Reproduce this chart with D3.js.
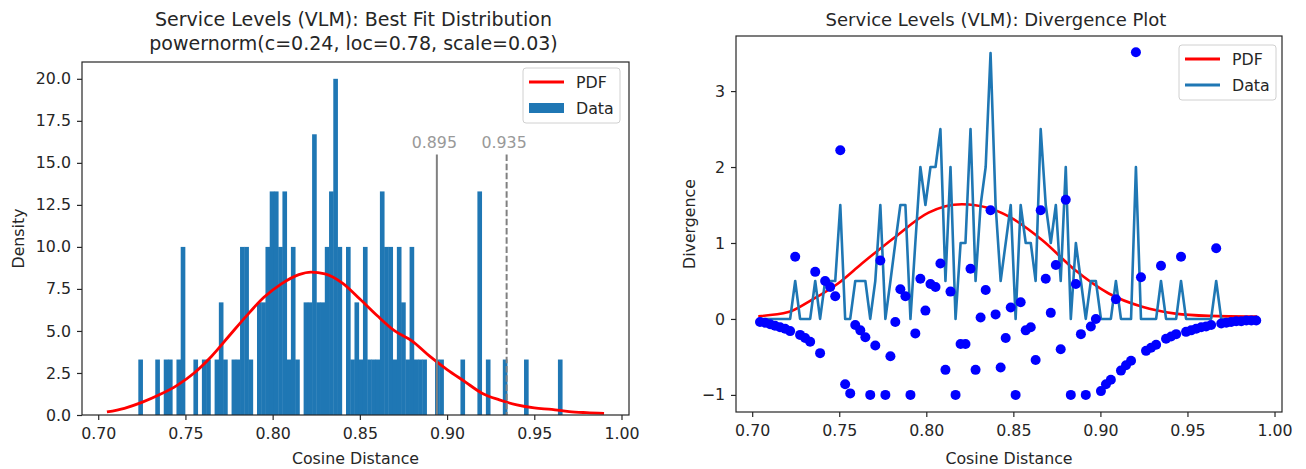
<!DOCTYPE html>
<html>
<head>
<meta charset="utf-8">
<script src="https://cdn.jsdelivr.net/npm/d3@7"></script>
<style>
  body { margin: 0; background: #fff; }
  svg text { font-family: "DejaVu Sans", sans-serif; fill: #262626; }
</style>
</head>
<body>
<div id="art"></div>
<script>
// ---------- left panel: histogram + fitted pdf ----------
const histStart = 0.7231;          // left edge of first bin
const histWidth = 0.00243;         // bin width
const histDensity = [
  3.3, 0, 0, 0, 3.3, 0, 3.3, 3.3, 0, 3.3,
  10, 0, 0, 3.3, 0, 3.3, 3.3, 0, 3.3, 6.7,
  3.3, 0, 3.3, 3.3, 10, 10, 3.3, 0, 6.7, 6.7,
  10, 13.3, 13.3, 10, 13.3, 3.3, 10, 3.3, 0, 6.7,
  6.7, 16.7, 6.7, 6.7, 10, 13.3, 20, 10, 0, 10,
  3.3, 6.7, 3.3, 10, 3.3, 3.3, 3.3, 13.3, 10, 10,
  3.3, 10, 6.7, 3.3, 10, 3.3, 3.3, 3.3, 0, 0,
  3.3, 3.3, 0, 0, 0, 0, 3.3, 0, 0, 0,
  13.3, 0, 3.3, 0, 0, 0, 3.3, 0, 0, 0,
  0, 3.3, 0, 0, 0, 0, 0, 0, 0, 3.3
];
const pdfX = [0.705, 0.715, 0.725, 0.735, 0.745, 0.755, 0.765, 0.775, 0.785, 0.795,
              0.805, 0.815, 0.822, 0.83, 0.84, 0.85, 0.86, 0.87, 0.88, 0.89,
              0.90, 0.91, 0.92, 0.93, 0.94, 0.95, 0.96, 0.97, 0.98, 0.99];
const pdfY = [0.18, 0.4, 0.75, 1.2, 1.75, 2.5, 3.5, 4.7, 5.9, 7.0,
              7.8, 8.35, 8.5, 8.4, 7.85, 6.9, 5.9, 5.0, 4.4, 3.5,
              2.7, 2.0, 1.3, 0.9, 0.6, 0.42, 0.33, 0.2, 0.14, 0.1];
const cutoffs = [0.895, 0.935];
const cutoffDash = [null, '6.5,2.7'];
const xTicks = [0.70, 0.75, 0.80, 0.85, 0.90, 0.95, 1.00];
const densityTicks = [0, 2.5, 5, 7.5, 10, 12.5, 15, 17.5, 20];

// ---------- right panel: divergence ----------
const divX = [
  0.7045, 0.7074, 0.7103, 0.7131, 0.7160, 0.7189, 0.7218, 0.7247, 0.7275, 0.7304,
  0.7333, 0.7362, 0.7390, 0.7419, 0.7448, 0.7477, 0.7506, 0.7534, 0.7563, 0.7592,
  0.7621, 0.7650, 0.7678, 0.7707, 0.7736, 0.7765, 0.7794, 0.7822, 0.7851, 0.7880,
  0.7909, 0.7937, 0.7966, 0.7995, 0.8024, 0.8053, 0.8081, 0.8110, 0.8139, 0.8168,
  0.8197, 0.8225, 0.8254, 0.8283, 0.8312, 0.8341, 0.8369, 0.8398, 0.8427, 0.8456,
  0.8485, 0.8513, 0.8542, 0.8571, 0.8600, 0.8628, 0.8657, 0.8686, 0.8715, 0.8744,
  0.8772, 0.8801, 0.8830, 0.8859, 0.8888, 0.8916, 0.8945, 0.8974, 0.9003, 0.9032,
  0.9060, 0.9089, 0.9118, 0.9147, 0.9176, 0.9204, 0.9233, 0.9262, 0.9291, 0.9320,
  0.9348, 0.9377, 0.9406, 0.9435, 0.9463, 0.9492, 0.9521, 0.9550, 0.9579, 0.9607,
  0.9636, 0.9665, 0.9694, 0.9723, 0.9751, 0.9780, 0.9809, 0.9838, 0.9867, 0.9895
];
const divData = [
  0, 0, 0, 0, 0, 0, 0, 0.5, 0, 0,
  0, 0.5, 0, 0.5, 0.5, 0.5, 1.5, 0, 0, 0.5,
  0.5, 0.5, 0, 0.5, 1.5, 0, 0.5, 1.0, 1.5, 1.5,
  0, 1.0, 2.0, 1.5, 2.0, 2.0, 2.5, 0.5, 2.0, 0,
  1.0, 1.0, 2.5, 0.5, 1.5, 2.0, 3.5, 1.5, 0.5, 1.0,
  1.5, 0, 1.5, 1.0, 1.0, 0.5, 2.5, 1.5, 1.0, 1.5,
  0.5, 2.0, 0, 1.0, 0.5, 0, 0.5, 0.5, 0, 0,
  0, 0.5, 0, 0, 0, 2.0, 0, 0, 0, 0,
  0.5, 0, 0, 0, 0.5, 0, 0, 0, 0, 0,
  0, 0.5, 0, 0, 0, 0, 0, 0, 0, 0
];
const divPoints = [
  -0.04, -0.05, -0.07, -0.09, -0.11, -0.13, -0.16, 0.82, -0.21, -0.25,
  -0.30, 0.62, -0.45, 0.50, 0.42, 0.30, 2.22, -0.86, -0.98, -0.08,
  -0.15, -0.24, -1.0, -0.35, 0.77, -1.0, -0.49, -0.04, 0.39, 0.30,
  -1.0, -0.19, 0.53, 0.11, 0.46, 0.42, 0.73, -0.67, 0.36, -1.0,
  -0.33, -0.33, 0.66, -0.67, 0.02, 0.38, 1.43, 0.06, -0.64, -0.25,
  0.15, -1.0, 0.22, -0.15, -0.11, -0.54, 1.43, 0.53, 0.08, 0.71,
  -0.40, 1.57, -1.0, 0.46, -0.20, -1.0, -0.10, 0.0, -0.95, -0.86,
  -0.80, 0.26, -0.68, -0.61, -0.55, 3.51, 0.55, -0.42, -0.38, -0.34,
  0.70, -0.26, -0.23, -0.20, 0.82, -0.17, -0.15, -0.13, -0.11, -0.10,
  -0.08, 0.93, -0.06, -0.05, -0.04, -0.03, -0.03, -0.02, -0.02, -0.02
];
const divPdfX = [0.7035, 0.7208, 0.7342, 0.7495, 0.763, 0.7821, 0.8013, 0.8205, 0.8358,
                 0.8473, 0.8665, 0.8856, 0.9048, 0.924, 0.9431, 0.9623, 0.99];
const divPdfY = [0.036, 0.09, 0.25, 0.47, 0.73, 1.08, 1.40, 1.51, 1.46,
                 1.35, 1.04, 0.64, 0.335, 0.16, 0.07, 0.04, 0.03];
const divTicks = [-1, 0, 1, 2, 3];

const tickFont = 15.8;
const titleFont = 19;

function axes(svg, box, xDomain, yDomain, yTicks, yFormat) {
  const x = d3.scaleLinear().domain(xDomain).range([box.left, box.right]);
  const y = d3.scaleLinear().domain(yDomain).range([box.bottom, box.top]);

  const ax = svg.append('g')
    .attr('transform', `translate(0,${box.bottom})`)
    .call(d3.axisBottom(x).tickValues(xTicks).tickFormat(d3.format('.2f'))
      .tickSize(5).tickPadding(8));
  const ay = svg.append('g')
    .attr('transform', `translate(${box.left},0)`)
    .call(d3.axisLeft(y).tickValues(yTicks).tickFormat(yFormat)
      .tickSize(5).tickPadding(6));
  [ax, ay].forEach(a => {
    a.select('.domain').remove();
    a.selectAll('line').attr('stroke', '#262626').attr('stroke-width', 1.2);
    a.selectAll('text').style('font-size', tickFont + 'px')
      .style('font-family', '"DejaVu Sans", sans-serif').attr('fill', '#262626');
  });
  return {x, y};
}

function frame(svg, box) {
  svg.append('rect')
    .attr('x', box.left).attr('y', box.top)
    .attr('width', box.right - box.left).attr('height', box.bottom - box.top)
    .attr('fill', 'none').attr('stroke', '#262626').attr('stroke-width', 1.2);
}

function legend(svg, left, top, items) {
  const g = svg.append('g').attr('transform', `translate(${left},${top})`);
  g.append('rect')
    .attr('width', 97).attr('height', 55).attr('rx', 3)
    .attr('fill', '#fff').attr('fill-opacity', 0.8)
    .attr('stroke', '#d0d0d0').attr('stroke-width', 1);
  items.forEach((it, i) => {
    const cy = 14 + i * 26;
    if (it.type === 'line') {
      g.append('line').attr('x1', 6).attr('x2', 41).attr('y1', cy).attr('y2', cy)
        .attr('stroke', it.colour).attr('stroke-width', 3);
    } else {
      g.append('rect').attr('x', 6).attr('y', cy - 5).attr('width', 35).attr('height', 10)
        .attr('fill', it.colour);
    }
    g.append('text').attr('x', 53).attr('y', cy).attr('dy', '0.35em')
      .style('font-size', tickFont + 'px').text(it.label);
  });
}

function art() {
  const svg = d3.select('#art').append('svg')
    .attr('width', 1306).attr('height', 469)
    .style('background', '#fff');

  // ---- left panel ----
  const lb = {left: 82, right: 629, top: 62, bottom: 415};
  const L = axes(svg, lb, [0.6907, 1.0043], [0, 21], densityTicks, d3.format('.1f'));
  const barW = L.x(histStart + histWidth) - L.x(histStart);

  svg.append('g').selectAll('rect')
    .data(histDensity.map((d, i) => ({i, d})).filter(b => b.d > 0))
    .enter().append('rect')
    .attr('x', b => L.x(histStart + b.i * histWidth) - 0.2)
    .attr('width', barW + 0.4)
    .attr('y', b => L.y(b.d))
    .attr('height', b => L.y(0) - L.y(b.d))
    .attr('fill', '#1f77b4');

  svg.append('path')
    .datum(pdfX.map((v, i) => [v, pdfY[i]]))
    .attr('d', d3.line().x(d => L.x(d[0])).y(d => L.y(d[1])).curve(d3.curveMonotoneX))
    .attr('fill', 'none').attr('stroke', 'red').attr('stroke-width', 2.8);

  cutoffs.forEach((c, i) => {
    svg.append('line')
      .attr('x1', L.x(c) - 1.5).attr('x2', L.x(c) - 1.5)
      .attr('y1', L.y(15.5)).attr('y2', L.y(0))
      .attr('stroke', 'gray').attr('stroke-width', 2)
      .attr('stroke-dasharray', cutoffDash[i]);
    svg.append('text')
      .attr('x', L.x(c) - 4).attr('y', L.y(15.9))
      .attr('text-anchor', 'middle')
      .style('font-size', tickFont + 'px').style('fill', '#999')
      .text(d3.format('.3f')(c));
  });

  frame(svg, lb);

  svg.append('text').attr('x', (lb.left + lb.right) / 2 - 2).attr('y', 26)
    .attr('text-anchor', 'middle').style('font-size', titleFont + 'px')
    .text('Service Levels (VLM): Best Fit Distribution');
  svg.append('text').attr('x', (lb.left + lb.right) / 2 - 2).attr('y', 50)
    .attr('text-anchor', 'middle').style('font-size', titleFont + 'px')
    .text('powernorm(c=0.24, loc=0.78, scale=0.03)');
  svg.append('text').attr('x', (lb.left + lb.right) / 2).attr('y', 464)
    .attr('text-anchor', 'middle').style('font-size', tickFont + 'px')
    .text('Cosine Distance');
  svg.append('text')
    .attr('transform', `translate(24,${(lb.top + lb.bottom) / 2}) rotate(-90)`)
    .attr('text-anchor', 'middle').style('font-size', tickFont + 'px')
    .text('Density');

  legend(svg, 523, 68, [
    {type: 'line', colour: 'red', label: 'PDF'},
    {type: 'patch', colour: '#1f77b4', label: 'Data'}
  ]);

  // ---- right panel ----
  const rb = {left: 736, right: 1282, top: 36, bottom: 412};
  const R = axes(svg, rb, [0.6907, 1.0043], [-1.225, 3.725], divTicks, d3.format('d'));

  svg.append('path')
    .datum(divPdfX.map((v, i) => [v, divPdfY[i]]))
    .attr('d', d3.line().x(d => R.x(d[0])).y(d => R.y(d[1])).curve(d3.curveMonotoneX))
    .attr('fill', 'none').attr('stroke', 'red').attr('stroke-width', 2.6);

  svg.append('path')
    .datum(divX.map((v, i) => [v, divData[i]]))
    .attr('d', d3.line().x(d => R.x(d[0])).y(d => R.y(d[1])))
    .attr('fill', 'none').attr('stroke', '#1f77b4').attr('stroke-width', 2.6)
    .attr('stroke-linejoin', 'round');

  svg.append('g').selectAll('circle')
    .data(divX.map((v, i) => [v, divPoints[i]]))
    .enter().append('circle')
    .attr('cx', d => R.x(d[0])).attr('cy', d => R.y(d[1]))
    .attr('r', 5).attr('fill', 'blue');

  frame(svg, rb);

  svg.append('text').attr('x', 996).attr('y', 26)
    .attr('text-anchor', 'middle').style('font-size', '18px')
    .text('Service Levels (VLM): Divergence Plot');
  svg.append('text').attr('x', (rb.left + rb.right) / 2).attr('y', 464)
    .attr('text-anchor', 'middle').style('font-size', tickFont + 'px')
    .text('Cosine Distance');
  svg.append('text')
    .attr('transform', `translate(695,${(rb.top + rb.bottom) / 2}) rotate(-90)`)
    .attr('text-anchor', 'middle').style('font-size', tickFont + 'px')
    .text('Divergence');

  legend(svg, 1179, 45, [
    {type: 'line', colour: 'red', label: 'PDF'},
    {type: 'line', colour: '#1f77b4', label: 'Data'}
  ]);
}

window.onload = function () {
  art();
};
</script>
</body>
</html>
